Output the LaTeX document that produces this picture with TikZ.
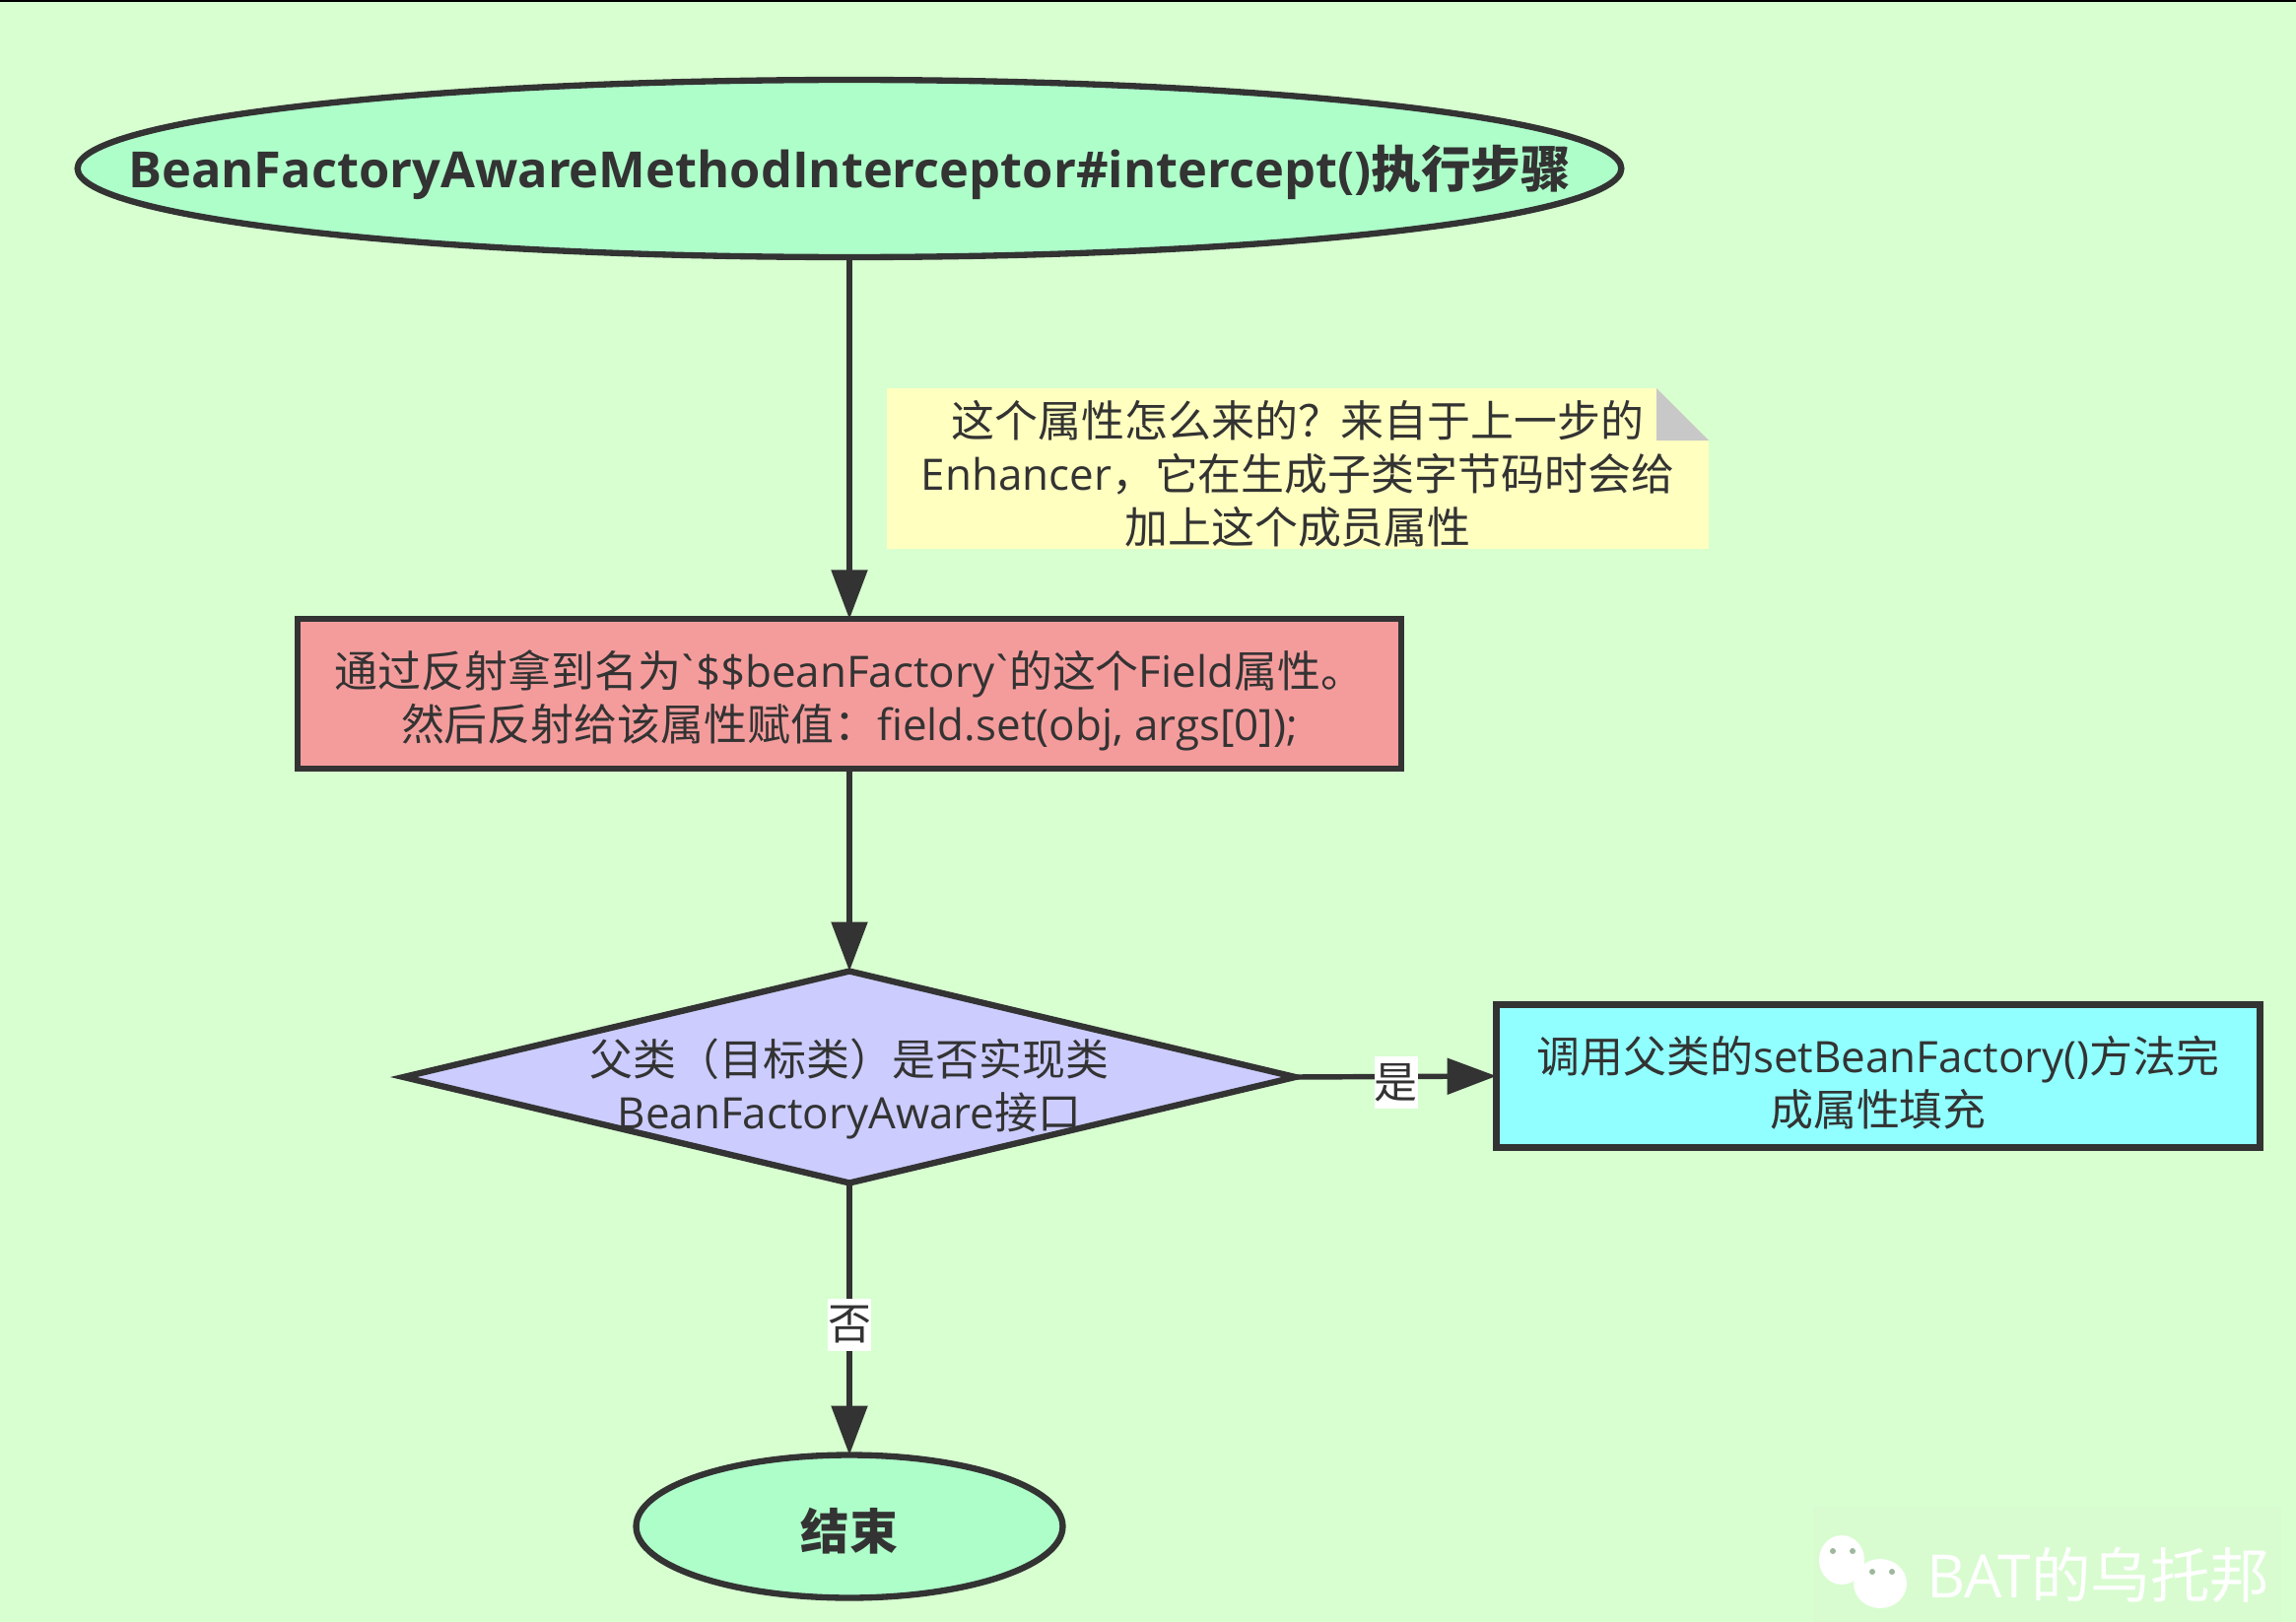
\documentclass[tikz,border=0pt]{standalone}
\usepackage{fontspec}
\setmainfont{Open Sans}[Ligatures=TeXOff]
\newfontfamily\cjk{Noto Sans CJK SC}
\usetikzlibrary{arrows.meta,positioning,shapes.geometric}
\definecolor{FCBack}{HTML}{D7FFD0}
\definecolor{FCPatch}{HTML}{D8FCD0}
\definecolor{FCInk}{HTML}{333333}
\definecolor{FCTerm}{HTML}{AEFECA}
\definecolor{FCRed}{HTML}{F49C9C}
\definecolor{FCPurple}{HTML}{CCCCFF}
\definecolor{FCCyan}{HTML}{91FFFF}
\definecolor{FCNote}{HTML}{FFFFC0}
\definecolor{FCFold}{HTML}{C8C8C8}
\definecolor{FCEye}{HTML}{9DB89C}
\tikzset{
  flow/.style={-{Triangle[length=1cm,width=.72cm]},FCInk,line width=3.1pt},
  nodetext/.style={text=FCInk,font=\fontsize{25}{30.7}\selectfont,align=center},
  termtext/.style={text=FCInk,align=center},
  term/.style={ellipse,draw=FCInk,line width=3.6pt,fill=FCTerm,inner sep=0pt,outer sep=0pt},
  stepbox/.style={rectangle,draw=FCInk,line width=3.6pt,inner sep=0pt,outer sep=0pt},
  decision/.style={diamond,draw=FCInk,line width=3.6pt,fill=FCPurple,inner sep=0pt,outer sep=0pt,aspect=4.2},
  edgelabel/.style={fill=white,inner sep=0pt,minimum width=.88cm,minimum height=1.06cm,nodetext},
}
\newcommand{\btick}{\kern-.12em`\kern-.12em}
\begin{document}
\begin{tikzpicture}[x=.02cm,y=-.02cm]
    \useasboundingbox (0,0) rectangle (2330,1646);
    \fill[FCBack] (0,0) rectangle (2330,1646);
    \fill[black] (0,0) rectangle (2330,2);

    % watermark
    \fill[FCPatch] (1840,1529) rectangle (2315,1646);
    \fill[white] (1869,1583) ellipse (23 and 25);
    \fill[white] (1908,1607) ellipse (27 and 25);
    \foreach \x/\y in {1860/1574,1880/1574,1900/1595,1920/1595}{
      \fill[FCEye] (\x,\y) circle (3);
    }
    \node[text=white,anchor=west,font=\fontsize{34.5}{38}\selectfont,inner sep=0pt] (mark) at (1955,1598) {BAT{\cjk 的乌托邦}};

    \node[term,minimum width=31.34cm,minimum height=3.6cm] (start) at (862,171) {};
    \node[termtext,font=\fontsize{28.8}{34}\selectfont\bfseries] (starttext) at (862,175)
      {BeanFactoryAwareMethodInterceptor\#intercept(){\cjk\bfseries 执行步骤}};
    \node[stepbox,fill=FCRed,minimum width=22.4cm,minimum height=3.03cm] (setfield) at (862,704) {};
    \node[nodetext] (setfieldtext) at (862,711)
      {{\cjk 通过反射拿到名为}\btick\$\$beanFactory\btick{\cjk 的这个}Field{\cjk 属性。}\\
       {\cjk 然后反射给该属性赋值：}field.set(obj, args[0]);};
    \node[decision,minimum width=18.1cm,minimum height=4.3cm] (check) at (862,1093) {};
    \node[nodetext] (checktext) at (862,1105)
      {{\cjk 父类（目标类）是否实现类}\\ BeanFactoryAware{\cjk 接口}};
    \node[stepbox,fill=FCCyan,minimum width=15.5cm,minimum height=2.9cm] (callset) at (1906,1092) {};
    \node[nodetext] (callsettext) at (1906,1099)
      {{\cjk 调用父类的}setBeanFactory(){\cjk 方法完}\\ {\cjk 成属性填充}};
    \node[term,minimum width=8.66cm,minimum height=2.9cm] (finish) at (862,1549) {};
    \node[termtext,font=\fontsize{28}{34}\selectfont\bfseries] (finishtext) at (862,1554) {\cjk\bfseries 结束};

    % note with folded corner
    \fill[FCNote] (900,394) -- (1681,394) -- (1734,447) -- (1734,557) -- (900,557) -- cycle;
    \fill[FCFold] (1681,394) -- (1681,447) -- (1734,447) -- cycle;
    \node[nodetext] (note) at (1317,481)
      {{\cjk 这个属性怎么来的？来自于上一步的}\\ Enhancer{\cjk ，它在生成子类字节码时会给}\\ {\cjk 加上这个成员属性}};

    \draw[flow] (start.south) -- (setfield.north);
    \draw[flow] (setfield.south) -- (check.north);
    \draw[flow] (check.east) -- node[edgelabel,yshift=-.12cm] (yes) {\cjk 是} (callset.west);
    \draw[flow] (check.south) -- node[edgelabel,yshift=-.12cm] (no) {\cjk 否} (finish.north);
\end{tikzpicture}
\end{document}
